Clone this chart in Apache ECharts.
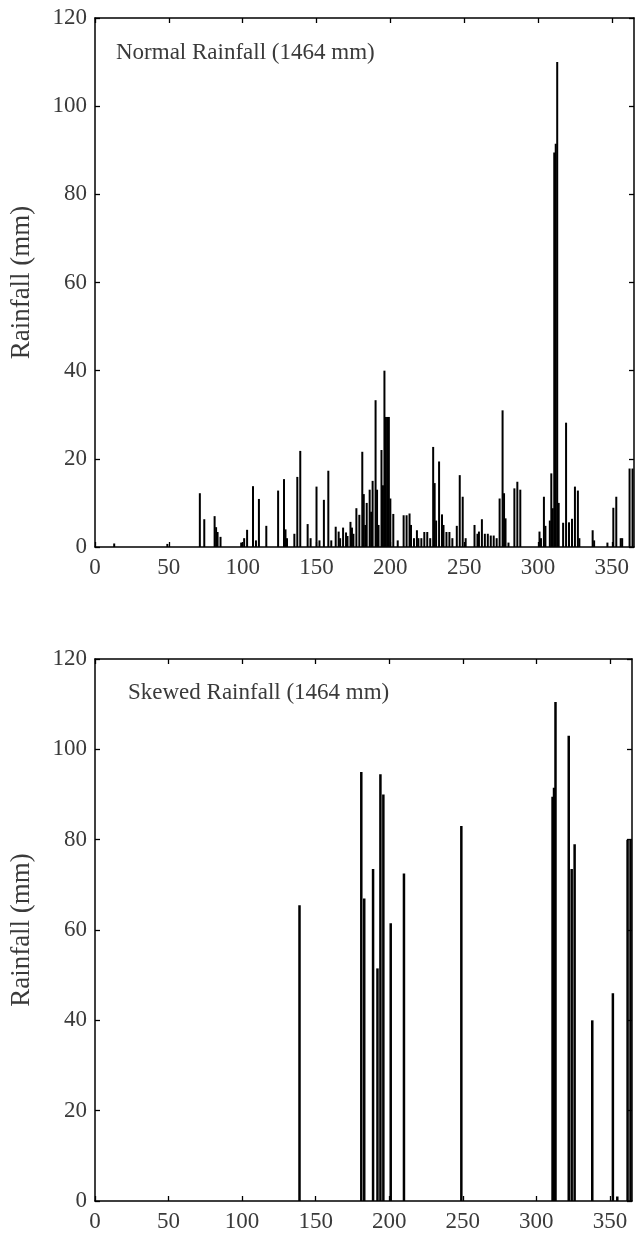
<!DOCTYPE html>
<html>
<head>
<meta charset="utf-8">
<script src="https://cdn.jsdelivr.net/npm/echarts@6/dist/echarts.min.js"></script>
<style>
html,body{margin:0;padding:0;background:#fff;}
#chart{width:644px;height:1239px;}
</style>
</head>
<body>
<div id="chart"></div>
<script>
// ---- Data ----
var titleNormal = 'Normal Rainfall (1464 mm)';
var titleSkewed = 'Skewed Rainfall (1464 mm)';
var yAxisName = 'Rainfall (mm)';
var xTicks = [0, 50, 100, 150, 200, 250, 300, 350];
var yTicks = [0, 20, 40, 60, 80, 100, 120];

var normalDays = [13,49,71,74,81,82,83,85,99,101,103,107,109,111,116,124,128,129,130,135,137,139,144,146,150,152,155,158,160,163,165,166,168,170,171,173,174,175,177,179,181,182,183,184,186,187,188,190,191,192,194,195,196,197,198,199,200,202,205,209,211,213,214,216,218,219,221,223,225,227,229,230,231,233,235,236,238,240,242,245,247,249,251,257,259,260,262,264,266,268,270,272,274,276,277,278,280,284,286,288,301,302,304,305,308,309,310,311,312,313,314,317,319,321,323,325,327,328,337,338,347,351,353,356,357,362,364];
var normalVals = [0.8,0.7,12.2,6.3,7,4.5,3.4,2.3,1,2,3.9,13.8,1.5,10.9,4.8,12.8,15.4,4,2,3,15.9,21.8,5.2,2,13.7,1.5,10.7,17.3,1.5,4.6,3.5,2,4.4,3.3,2.5,5.7,4.4,3,8.8,7.3,21.6,12,5,10,13,8,15,33.3,13,5,22,14,40,29.5,29.5,29.5,11,7.5,1.5,7.2,7.2,7.6,5,2,3.8,2,2,3.4,3.4,2,22.7,14.5,6,19.4,7.4,5,3.4,3.4,2,4.8,16.3,11.4,2,5,3,3.5,6.3,3,3,2.6,2.6,2,11,31,12.2,6.5,1,13.3,14.8,13,3.5,2,11.4,4.8,6,16.7,8.8,89.5,91.5,110,10,5.5,28.2,5.6,6.4,13.7,12.8,2,3.8,1.5,1,8.9,11.4,2,2,17.8,17.8];

var skewedDays = [139,181,183,189,192,194,196,201,210,249,311,312,313,322,324,326,338,352,355,362,364];
var skewedVals = [65.5,95,67,73.5,51.5,94.5,90,61.5,72.5,83,89.5,91.5,110.5,103,73.5,79,40,46,1,80,80];

function pairs(d, v){ var out=[]; for(var i=0;i<d.length;i++){ out.push([d[i], v[i]]); } return out; }

var FONT = 'Liberation Serif';
var TXT = '#3a3a3a';

function xAxes(gi, showLabel, pos){
  return {
    type:'value', gridIndex:gi, min:0, max:365, interval:50, position:pos,
    axisLine:{show:true, onZero:false, lineStyle:{color:'#000', width:1.5}},
    axisTick:{show:true, inside:true, length:5, lineStyle:{color:'#000', width:1.3},
      customValues: xTicks},
    axisLabel:{show:showLabel, color:TXT, fontFamily:FONT, fontSize:23, margin:9,
      customValues: xTicks},
    splitLine:{show:false}
  };
}
function yAxes(gi, showLabel, pos, gap){
  return {
    type:'value', gridIndex:gi, min:0, max:120, interval:20, position:pos,
    name: showLabel ? yAxisName : '', nameLocation:'middle', nameGap:gap, nameRotate:90,
    nameTextStyle:{color:TXT, fontFamily:FONT, fontSize:27},
    axisLine:{show:true, onZero:false, lineStyle:{color:'#000', width:1.5}},
    axisTick:{show:true, inside:true, length:5, lineStyle:{color:'#000', width:1.3}},
    axisLabel:{show:showLabel, color:TXT, fontFamily:FONT, fontSize:23, margin:8},
    splitLine:{show:false}
  };
}

var chart = echarts.init(document.getElementById('chart'), null, {renderer:'canvas'});
chart.setOption({
  animation:false,
  backgroundColor:'#fff',
  title:[
    {text:titleNormal, left:111, top:36, textStyle:{color:TXT, fontFamily:FONT, fontSize:23, fontWeight:'normal'}},
    {text:titleSkewed, left:123, top:676, textStyle:{color:TXT, fontFamily:FONT, fontSize:23, fontWeight:'normal'}}
  ],
  grid:[
    {left:93, top:18, width:541, height:529},
    {left:87, top:659, width:545, height:542}
  ],
  xAxis:[ xAxes(0,true,'bottom'), xAxes(0,false,'top'), xAxes(1,true,'bottom'), xAxes(1,false,'top') ],
  yAxis:[ yAxes(0,true,'left',60), yAxes(0,false,'right',0), yAxes(1,true,'left',60), yAxes(1,false,'right',0) ],
  series:[
    {type:'bar', xAxisIndex:0, yAxisIndex:0, data:pairs(normalDays, normalVals), barWidth:2,
      itemStyle:{color:'#000'}, silent:true},
    {type:'bar', xAxisIndex:2, yAxisIndex:2, data:pairs(skewedDays, skewedVals), barWidth:2.5,
      itemStyle:{color:'#000'}, silent:true}
  ]
});
</script>
</body>
</html>
